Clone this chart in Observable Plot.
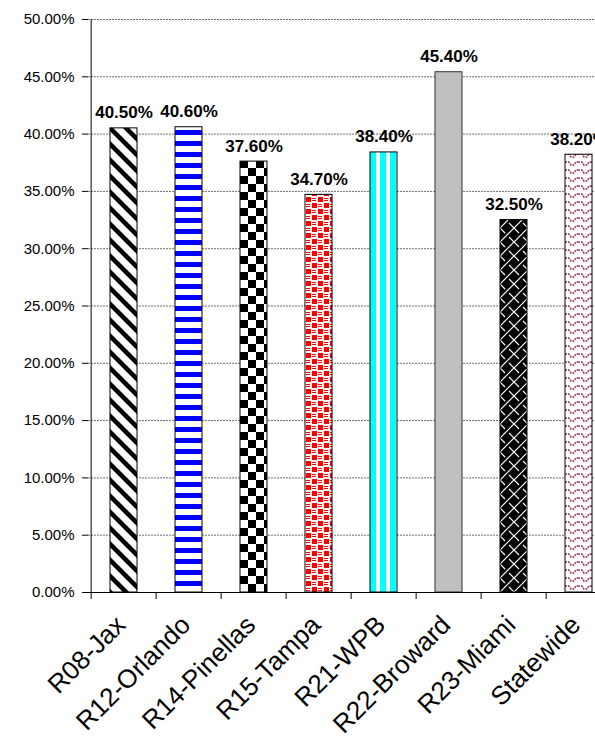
<!DOCTYPE html>
<html>
<head>
<meta charset="utf-8">
<script src="https://cdn.jsdelivr.net/npm/d3@7"></script>
<script src="https://cdn.jsdelivr.net/npm/@observablehq/plot@0.6"></script>
<style>
  html, body { margin: 0; padding: 0; background: #fff; overflow: hidden; }
  #chart svg { max-width: none !important; display: block; }
</style>
</head>
<body>
<div id="chart"></div>
<script>
// Share of cases by region (percent)
const regions = ["R08-Jax", "R12-Orlando", "R14-Pinellas", "R15-Tampa", "R21-WPB", "R22-Broward", "R23-Miami", "Statewide"];
const shares = [40.5, 40.6, 37.6, 34.7, 38.4, 45.4, 32.5, 38.2];
const yTicks = [0, 5, 10, 15, 20, 25, 30, 35, 40, 45, 50];

// Fill for each bar: a hatch pattern id, or a plain colour
const fills = ["url(#fill-jax)", "url(#fill-orlando)", "url(#fill-pinellas)", "url(#fill-tampa)",
               "url(#fill-wpb)", "#c0c0c0", "url(#fill-miami)", "url(#fill-statewide)"];
const outlines = ["#000", "#000", "#000", "#000", "#000", "#333", "#000", "#000"];

const rows = regions.map((region, i) => ({region, share: shares[i], fill: fills[i], outline: outlines[i]}));

const W = 630, H = 739;
const mL = 88, mR = 16, mT = 19, mB = 147;
const step = (W - mL - mR) / regions.length;
const pct = d => d.toFixed(2) + "%";

const chart = Plot.plot({
  width: W,
  height: H,
  marginLeft: mL,
  marginRight: mR,
  marginTop: mT,
  marginBottom: mB,
  style: {fontFamily: "'Liberation Sans', Arial, sans-serif", fontSize: "15px", color: "#000", background: "#fff", maxWidth: "none"},
  x: {domain: regions, paddingInner: 0.59, paddingOuter: 0.295, axis: null},
  y: {domain: [0, 50], axis: null},
  color: {type: "identity"},
  marks: [
    // horizontal gridlines
    Plot.ruleY(yTicks.filter(t => t > 0), {stroke: "#6e6e6e", strokeWidth: 1, strokeDasharray: "2,1"}),
    // bars
    Plot.barY(rows, {x: "region", y: "share", fill: "fill", stroke: "outline", strokeWidth: 1}),
    // value labels
    Plot.text(rows, {x: "region", y: "share", text: d => pct(d.share), dy: -10, lineAnchor: "bottom",
                     fontWeight: "bold", fontSize: 17, fill: "#000"}),
    // y axis
    Plot.axisY({ticks: yTicks, tickFormat: pct, tickSize: 6, tickPadding: 8, fontSize: 15, label: null}),
    Plot.ruleX([regions[0]], {y1: 0, y2: 50, dx: -step / 2, stroke: "#000"}),
    // x axis line and category boundary ticks
    Plot.ruleY([0], {stroke: "#000"}),
    Plot.ruleX(regions, {y1: 0, y2: 0, insetBottom: -7, dx: -step / 2, stroke: "#000"}),
    // rotated category labels
    Plot.text(regions, {x: d => d, frameAnchor: "bottom", rotate: -45, textAnchor: "end", lineAnchor: "bottom",
                        dx: 3, dy: 34, fontSize: 26, fill: "#000"})
  ]
});

// Pattern definitions, each anchored at its own bar's left edge and baseline
const xs = chart.scale("x"), ys = chart.scale("y");
const y0 = ys.apply(0);
const svgNS = "http://www.w3.org/2000/svg";
const defs = document.createElementNS(svgNS, "defs");
function pattern(id, region, w, h, inner) {
  const x0 = xs.apply(region);
  const p = document.createElementNS(svgNS, "pattern");
  p.setAttribute("id", id);
  p.setAttribute("patternUnits", "userSpaceOnUse");
  p.setAttribute("x", x0);
  p.setAttribute("y", y0);
  p.setAttribute("width", w);
  p.setAttribute("height", h);
  p.innerHTML = inner;
  defs.appendChild(p);
}
pattern("fill-jax", "R08-Jax", 16, 16,
  `<rect width="16" height="16" fill="#fff"/>
   <path d="M-4,-4L20,20M-8,8L8,24M8,-8L24,8" stroke="#000" stroke-width="4.5"/>`);
pattern("fill-orlando", "R12-Orlando", 10, 11,
  `<rect width="10" height="11" fill="#fff"/><rect y="0" width="10" height="5" fill="#0000ff"/>`);
pattern("fill-pinellas", "R14-Pinellas", 16, 16,
  `<rect width="16" height="16" fill="#fff"/><rect width="8" height="8" fill="#000"/><rect x="8" y="8" width="8" height="8" fill="#000"/>`);
pattern("fill-tampa", "R15-Tampa", 12, 12,
  `<rect width="12" height="12" fill="#fff"/>
   <rect x="1" y="1" width="5" height="5" fill="#ff0000"/><rect x="7" y="7" width="5" height="5" fill="#ff0000"/>
   <rect x="7" y="2" width="4" height="1" fill="#ff0000"/><rect x="7" y="4" width="4" height="1" fill="#ff0000"/>
   <rect x="1" y="8" width="4" height="1" fill="#ff0000"/><rect x="1" y="10" width="4" height="1" fill="#ff0000"/>`);
pattern("fill-wpb", "R21-WPB", 10, 10,
  `<rect width="10" height="10" fill="#00ffff"/><rect x="6" width="4" height="10" fill="#fff"/>`);
pattern("fill-miami", "R23-Miami", 14, 14,
  `<rect width="14" height="14" fill="#000"/>
   <path d="M-1,15L15,-1M0,0L5,5M9,9L14,14" stroke="#fff" stroke-width="1.2"/>`);
pattern("fill-statewide", "Statewide", 13, 8,
  `<rect width="13" height="8" fill="#fff"/>
   <path d="M0,2H4L6,5H9L11,2H13" fill="none" stroke="#993366" stroke-width="1.6" stroke-dasharray="2,1"/>`);
chart.insertBefore(defs, chart.firstChild);

document.getElementById("chart").appendChild(chart);
</script>
</body>
</html>
